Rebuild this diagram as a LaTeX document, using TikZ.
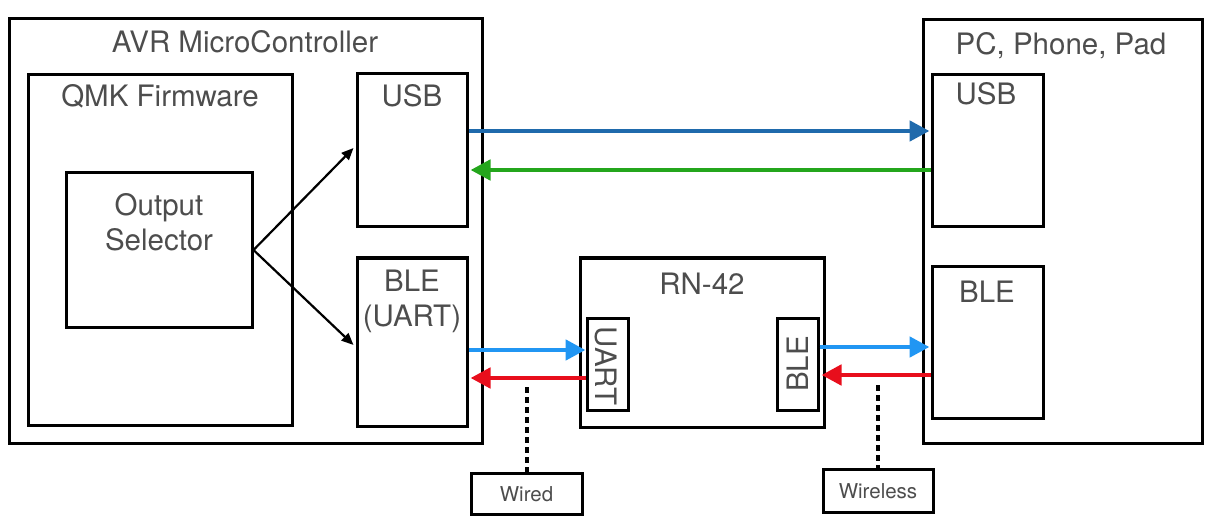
\documentclass[tikz,border=0pt]{standalone}
\usepackage{fontspec}
\setmainfont{TeX Gyre Heros}
\usetikzlibrary{arrows.meta,calc}
\definecolor{txt}{RGB}{77,77,77}
\definecolor{usbblue}{RGB}{31,106,172}
\definecolor{usbgreen}{RGB}{36,166,28}
\definecolor{bleblue}{RGB}{33,150,243}
\definecolor{blered}{RGB}{232,14,28}
\begin{document}
\begin{tikzpicture}[x=1pt,y=-1pt,
  box/.style={draw=black,line width=3pt,inner sep=0pt},
  big/.style={text=txt,font=\fontsize{29.5}{35}\selectfont,inner sep=0pt},
  small/.style={text=txt,font=\fontsize{20.5}{24}\selectfont,inner sep=0pt,anchor=base},
  thickarrow/.style={line width=4.8pt,-{Triangle[length=20pt,width=20pt]}},
  fork/.style={line width=2.2pt,-{Triangle[length=12pt,width=10pt]}},
  dots/.style={line width=3.6pt,dash pattern=on 6pt off 4pt}]
\useasboundingbox (0,0) rectangle (1217,529);
% boxes
\node[box,minimum width=473pt,minimum height=424pt] (avr) at (245.5,231) {};
\node[box,minimum width=264pt,minimum height=350pt] (qmk) at (160,250) {};
\node[box,minimum width=110pt,minimum height=153pt] (usbA) at (412,150.5) {};
\node[box,minimum width=110pt,minimum height=168pt] (bleA) at (412,342) {};
\node[box,minimum width=186pt,minimum height=154pt] (sel) at (159,250) {};
\node[box,minimum width=279pt,minimum height=423pt] (pc) at (1062.5,231.5) {};
\node[box,minimum width=111pt,minimum height=152pt] (usbP) at (987.5,151) {};
\node[box,minimum width=111pt,minimum height=152pt] (bleP) at (987.5,342) {};
\node[box,minimum width=244pt,minimum height=169pt] (rn) at (702,342.5) {};
\node[box,minimum width=41pt,minimum height=92pt] (uart) at (607.5,364) {};
\node[box,minimum width=41pt,minimum height=92pt] (bleR) at (797.5,364) {};
\node[box,minimum width=111pt,minimum height=41pt] (wired) at (526.5,493.5) {};
\node[box,minimum width=110pt,minimum height=43pt] (wireless) at (878,490.5) {};
% texts
\node[big,anchor=base] (tavr) at (245,53) {AVR MicroController};
\node[big,anchor=base] (tqmk) at (160,107) {QMK Firmware};
\node[big,anchor=base] (tusbA) at (412,107) {USB};
\node[big,align=center] (tsel) at (159,222) {Output\\Selector};
\node[big,align=center] (tbleA) at (412,301) {BLE\\(UART)};
\node[big,anchor=base] (trn) at (702,294) {RN-42};
\node[big,anchor=base] (tpc) at (1061,55) {PC, Phone, Pad};
\node[big,anchor=base] (tusbP) at (986,105) {USB};
\node[big,anchor=base] (tbleP) at (987,302) {BLE};
\node[big,rotate=-90] (tuart) at (606,366) {UART};
\node[big,rotate=90] (tbleR) at (798,364) {BLE};
\node[small] (twired) at (526.5,501) {Wired};
\node[small] (twireless) at (878,498) {Wireless};
% levels
\coordinate (y1) at (0,131);
\coordinate (y2) at (0,170);
\coordinate (y3) at (0,350);
\coordinate (y4) at (0,378);
\coordinate (y5) at (0,347);
\coordinate (y6) at (0,375);
\coordinate (f1) at (0,148);
\coordinate (f2) at (0,345);
% connectors
\draw[thickarrow,draw=usbblue,fill=usbblue] (usbA.east |- y1) -- ([xshift=-1pt]usbP.west |- y1);
\draw[thickarrow,draw=usbgreen,fill=usbgreen] (usbP.west |- y2) -- ([xshift=2pt]usbA.east |- y2);
\draw[thickarrow,draw=bleblue,fill=bleblue] (bleA.east |- y3) -- (uart.west |- y3);
\draw[thickarrow,draw=blered,fill=blered] (uart.west |- y4) -- ([xshift=2pt]bleA.east |- y4);
\draw[thickarrow,draw=bleblue,fill=bleblue] (bleR.east |- y5) -- ([xshift=-1pt]bleP.west |- y5);
\draw[thickarrow,draw=blered,fill=blered] (bleP.west |- y6) -- ([xshift=2pt]bleR.east |- y6);
\draw[fork] (sel.east) -- ([xshift=-2pt]usbA.west |- f1);
\draw[fork] (sel.east) -- ([xshift=-2pt]bleA.west |- f2);
\coordinate (d1) at (527,387);
\coordinate (d2) at (878,385);
\draw[dots] (d1) -- (d1 |- wired.north);
\draw[dots] (d2) -- (d2 |- wireless.north);
\end{tikzpicture}
\end{document}
